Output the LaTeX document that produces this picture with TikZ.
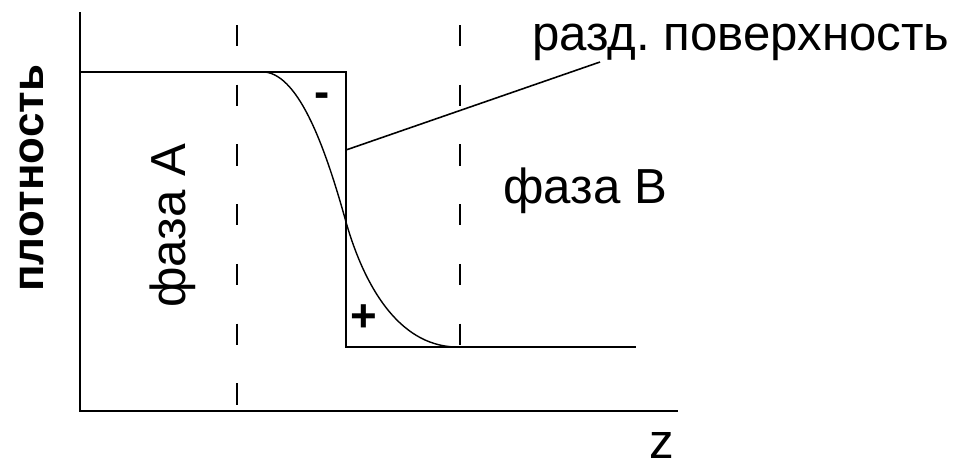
\documentclass[tikz,border=0pt]{standalone}
\usepackage{fontspec}
\setmainfont{Liberation Sans}
\usepackage{tikz}
\usetikzlibrary{arrows.meta, positioning, calc}

\begin{document}
\begin{tikzpicture}[
  x=0.02cm, y=-0.02cm,
  every node/.style={font=\fontsize{28}{32}\selectfont, inner sep=0pt},
  axis/.style={line width=1.1pt},
  profile/.style={line width=1.1pt},
  smooth profile/.style={line width=0.8pt},
  divider/.style={line width=0.9pt, dash pattern=on 12pt off 22pt},
  leader/.style={line width=0.9pt}
]
  \useasboundingbox (0,0) rectangle (963,467);

  % axes
  \coordinate (origin) at (80,411);
  \coordinate (ytop)   at (80,12);
  \coordinate (xend)   at (678,411);
  \draw[axis] (ytop) -- (origin) -- (xend);

  % step profile (Gibbs dividing surface)
  \coordinate (stepA)  at (80,72);
  \coordinate (stepT)  at (346,72);
  \coordinate (stepB)  at (346,347);
  \coordinate (stepE)  at (636,347);
  \draw[profile] (stepA) -- (stepT) -- (stepB) -- (stepE);

  % real density profile
  \coordinate (curveS) at (265,72);
  \coordinate (curveM) at (346,222);
  \coordinate (curveE) at (455,347);
  \draw[smooth profile] (curveS) .. controls (300,76) and (326,150) .. (curveM)
                        .. controls (364,285) and (398,345) .. (curveE);

  % boundaries of the interface layer
  \coordinate (dashAt) at (237,25);
  \coordinate (dashAb) at (237,411);
  \coordinate (dashBt) at (460,25);
  \coordinate (dashBb) at (460,345);
  \foreach \a/\b in {dashAt/dashAb, dashBt/dashBb}{
    \draw[divider] (\a) -- (\b);
  }

  % labels
  \node[anchor=base west] (surf) at (532,50) {разд.\ поверхность};
  \node[anchor=base west] (phaseB) at (503,203) {фаза B};
  \node[anchor=base west, rotate=90] (phaseA) at (185,308) {фаза А};
  \node[anchor=base west, rotate=90, font=\fontsize{25}{30}\selectfont\bfseries] (dens) at (43,292) {плотность};
  \node[anchor=base] (zlbl) at (662,458) {z};
  \node[font=\fontsize{26}{30}\selectfont\bfseries] (minus) at (322,100) {-};
  \node[font=\fontsize{26}{30}\selectfont\bfseries] (plus) at (364,318) {+};

  % leader to the label
  \coordinate (leadS) at (346,150);
  \coordinate (leadE) at (600,62);
  \draw[leader] (leadS) -- (leadE);
\end{tikzpicture}
\end{document}
